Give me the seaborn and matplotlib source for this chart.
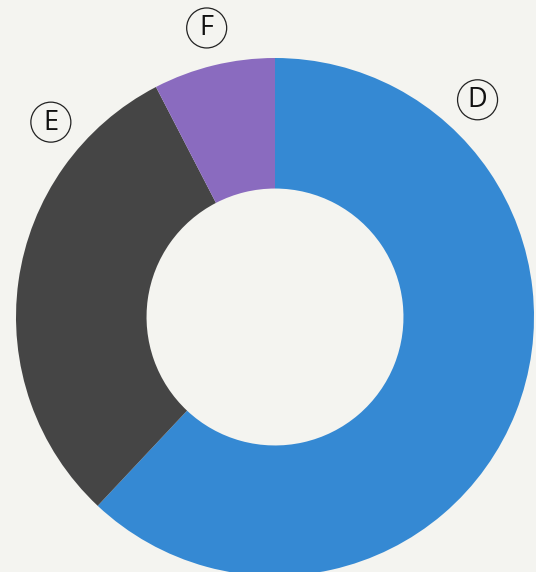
import numpy as np
import matplotlib
matplotlib.use("Agg")
import matplotlib.pyplot as plt
import seaborn as sns

# data
labels = ["D", "E", "F"]
values = [62, 30.4, 7.6]
colors = ["#3589d3", "#454545", "#8a6bbf"]
# angle (deg, clockwise from 12 o'clock) where each label badge sits
label_angles = [43, 311, 346.7]

BG = "#f4f4f0"

sns.set_theme(style="white")
plt.rcParams["font.family"] = ["Open Sans", "DejaVu Sans"]

fig = plt.figure(figsize=(5.36, 5.72), dpi=100)
fig.patch.set_facecolor(BG)
ax = fig.add_axes([0, 0, 1, 1])
ax.set_facecolor(BG)

cx, cy, r = 275, 255, 259
ax.pie(values, colors=colors, startangle=90, counterclock=False,
       center=(cx, cy), radius=r,
       wedgeprops=dict(width=r * 0.504, linewidth=0))

# label badges
for lab, ang in zip(labels, label_angles):
    t = np.deg2rad(ang)
    lr = 297
    x = cx + lr * np.sin(t)
    y = cy + lr * np.cos(t)
    circ = plt.Circle((x, y), 20, facecolor="none", edgecolor="#222222", lw=0.9)
    ax.add_patch(circ)
    ax.text(x, y - 0.5, lab, ha="center", va="center", fontsize=19.5,
            color="#111111")

ax.set_xlim(0, 536)
ax.set_ylim(0, 572)
ax.set_aspect("equal")
ax.axis("off")

fig.savefig("out.png", dpi=100, facecolor=BG)
